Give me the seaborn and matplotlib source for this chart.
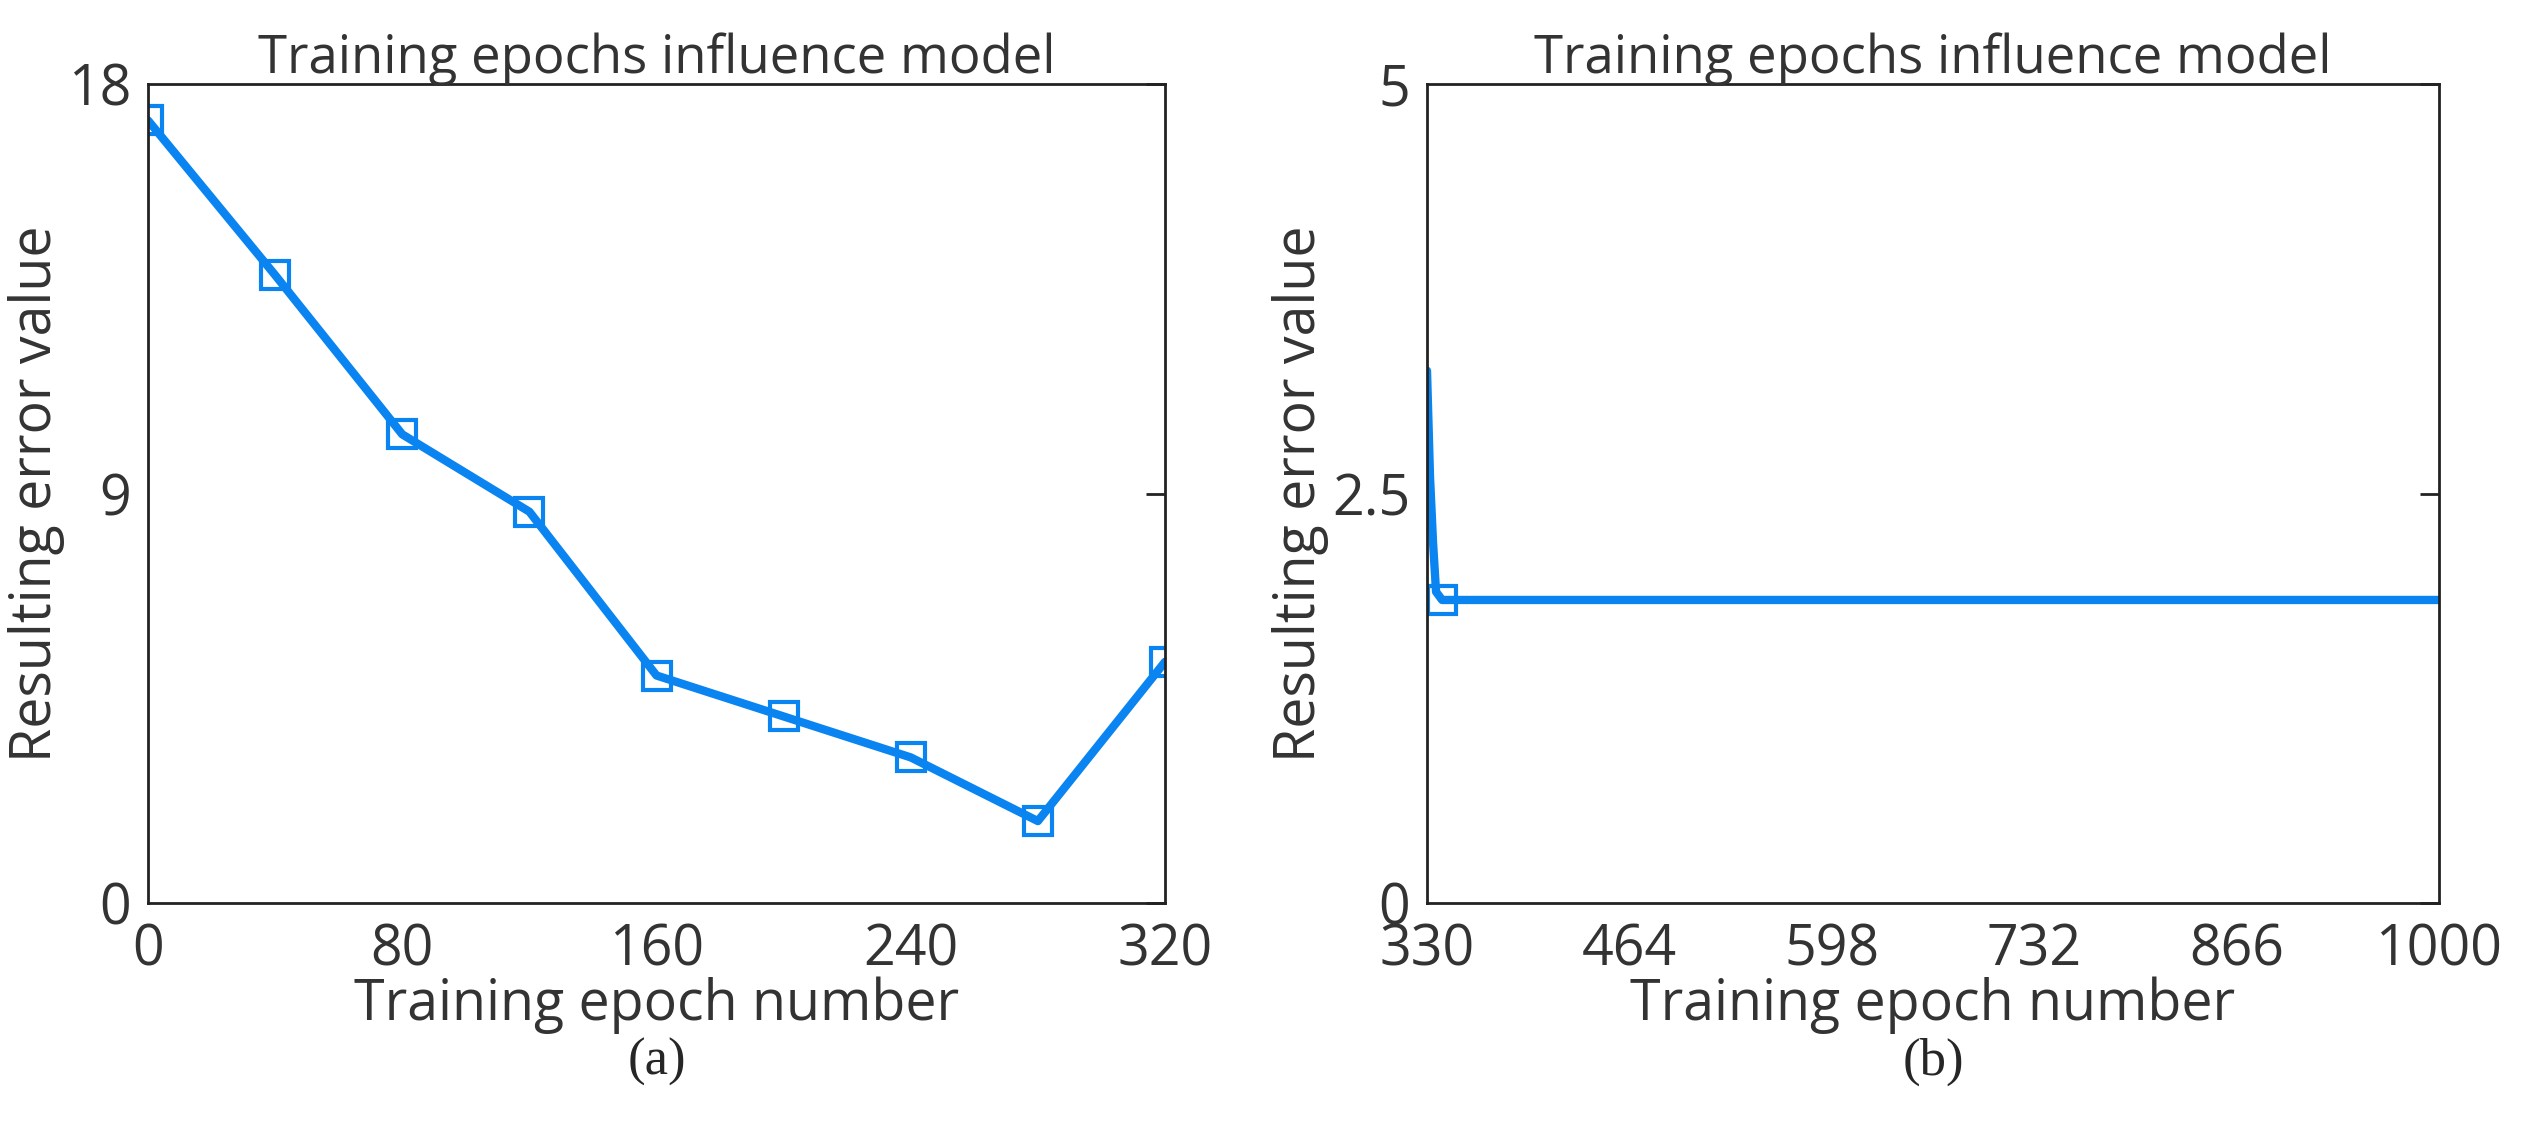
import matplotlib
matplotlib.use("Agg")
import matplotlib.pyplot as plt
import seaborn as sns
import pandas as pd

# panel (a)
epochs_a = [0, 40, 80, 120, 160, 200, 240, 280, 320]
error_a = [17.2, 13.8, 10.3, 8.6, 5.0, 4.1, 3.2, 1.8, 5.3]
# panel (b)
epochs_b = [330, 332, 334, 336, 340, 400, 600, 800, 1000]
error_b = [3.25, 2.6, 2.2, 1.9, 1.85, 1.85, 1.85, 1.85, 1.85]
marker_b_x = [340]
marker_b_y = [1.85]
yticklabels_b = ["0", "2.5", "5"]

sns.set_style("white")
plt.rcParams["font.family"] = ["Open Sans", "DejaVu Sans"]
blue = "#0a84f0"

fig = plt.figure(figsize=(25.29, 11.45), dpi=100)
ax1 = fig.add_axes([148/2529, 1 - 903/1145, (1165-148)/2529, (903-84)/1145])
ax2 = fig.add_axes([1427/2529, 1 - 903/1145, (2439-1427)/2529, (903-84)/1145])

da = pd.DataFrame({"x": epochs_a, "y": error_a})
sns.lineplot(data=da, x="x", y="y", ax=ax1, color=blue, lw=6, marker="s",
             markersize=20, markerfacecolor="none", markeredgecolor=blue, markeredgewidth=3)
db = pd.DataFrame({"x": epochs_b, "y": error_b})
sns.lineplot(data=db, x="x", y="y", ax=ax2, color=blue, lw=6)
ax2.plot(marker_b_x, marker_b_y, "s", ms=20, mfc="none", mec=blue, mew=3)

ax1.set_xlim(0, 320); ax1.set_ylim(0, 18)
ax1.set_xticks([0, 80, 160, 240, 320]); ax1.set_yticks([0, 9, 18])
ax2.set_xlim(330, 1000); ax2.set_ylim(0, 5)
ax2.set_xticks([330, 464, 598, 732, 866, 1000])
ax2.set_yticks([0, 2.5, 5], yticklabels_b)

for ax in (ax1, ax2):
    ax.set_title("Training epochs influence model", fontsize=38, color="#333333", pad=8)
    ax.set_xlabel("Training epoch number", fontsize=40, color="#333333", labelpad=-2)
    ax.set_ylabel("Resulting error value", fontsize=40, color="#333333", labelpad=2)
    ax.tick_params(direction="in", length=14, width=2, labelsize=40, colors="#222222",
                   right=True, labelcolor="#333333")
    ax.tick_params(axis="x", pad=14)
    ax.tick_params(axis="y", pad=12)
    for s in ax.spines.values():
        s.set_color("#222222"); s.set_linewidth(2)

fig.text((148+1165)/2/2529, 1 - 1075/1145, "(a)", ha="center", fontsize=38,
         family=["Liberation Serif"])
fig.text((1427+2439)/2/2529, 1 - 1075/1145, "(b)", ha="center", fontsize=38,
         family=["Liberation Serif"])
fig.savefig("out.png", dpi=100)
